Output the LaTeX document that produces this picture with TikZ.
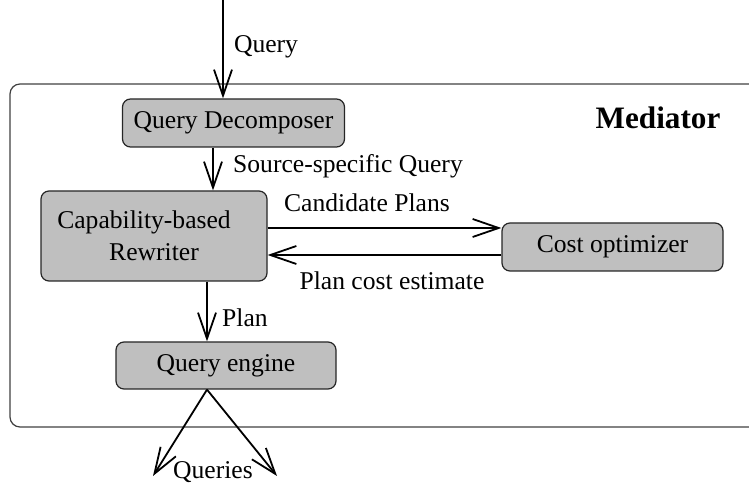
\documentclass[tikz,border=0pt]{standalone}
\usepackage{fontspec}
\setmainfont{Liberation Serif}
\usetikzlibrary{arrows.meta,positioning}

\begin{document}
\begin{tikzpicture}[x=0.5pt,y=-0.5pt,
        every node/.style={font=\fontsize{12.8}{16}\selectfont},
        modbox/.style={draw=black!85, line width=0.6pt, fill=black!25, rounded corners=4pt,
                       minimum width=111pt, minimum height=24pt, inner sep=0pt, align=center},
        flow/.style={line width=0.9pt, -{Straight Barb[length=13pt,width=9pt,line width=0.9pt]}}]
          \clip (0,0) rectangle (749,485);
          %mediator frame
          \draw[black!75, line width=0.6pt, rounded corners=5pt] (10,84) rectangle (780,427);
          \node[font=\fontsize{15.6}{18}\bfseries] (medtitle) at (658,118) {Mediator};

          %modules
          \node[modbox] (qdec) at (233.5,123) {Query Decomposer};
          \node[modbox, minimum width=113pt, minimum height=45pt] (rewriter) at (154,236) {Capability-based\hspace*{10pt}\\Rewriter};
          \node[modbox, minimum width=110.5pt] (costopt) at (612.5,247) {Cost optimizer};
          \node[modbox, minimum width=110pt, minimum height=23.5pt] (qengine) at (226,365.5) {Query engine};

          %free ends
          \coordinate (qin) at (223,0);
          \coordinate (outa) at (153,476);
          \coordinate (outb) at (277,476);

          %connectors
          \draw[flow] (qin) -- (qin |- qdec.north);
          \draw[flow] (qdec.south -| 213,0) -- (rewriter.north -| 213,0);
          \draw[flow] (rewriter.east |- 0,228) -- (costopt.west |- 0,228);
          \draw[flow] (costopt.west |- 0,255) -- (rewriter.east |- 0,255);
          \draw[flow] (rewriter.south -| 207,0) -- (qengine.north -| 207,0);
          \draw[flow] (qengine.south -| 207,0) -- (outa);
          \draw[flow] (qengine.south -| 207,0) -- (outb);

          %labels
          \node (lquery) at (266,47) {Query};
          \node (lsource) at (348,166) {Source-specific Query};
          \node (lcand) at (367,203) {Candidate Plans};
          \node (lcost) at (392,281) {Plan cost estimate};
          \node (lplan) at (245,318) {Plan};
          \node (lqueries) at (213,472) {Queries};
    \end{tikzpicture}
\end{document}
